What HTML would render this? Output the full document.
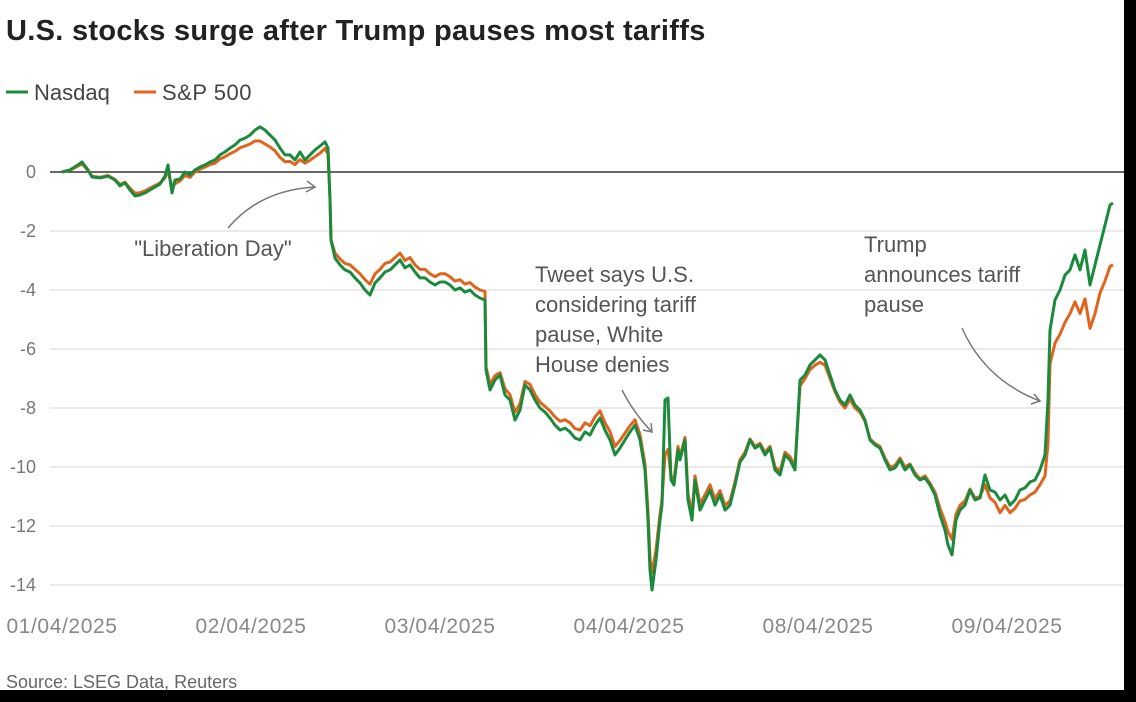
<!DOCTYPE html>
<html><head><meta charset="utf-8">
<style>
html,body{margin:0;padding:0;background:#000;}
#wrap{position:relative;width:1124px;height:690px;background:#fff;overflow:hidden;font-family:"Liberation Sans",sans-serif;}
svg text{font-family:"Liberation Sans",sans-serif;}
</style></head>
<body>
<div id="wrap">
<svg id="chart" width="1124" height="690">
  <text x="6" y="40" font-size="29" font-weight="bold" letter-spacing="0.3" fill="#222">U.S. stocks surge after Trump pauses most tariffs</text>
  <g>
    <g>
      <line x1="6" y1="92" x2="28" y2="92" stroke="#1a8a3c" stroke-width="3"/>
      <text x="34" y="100" font-size="22" fill="#444">Nasdaq</text>
    </g>
    <g>
      <line x1="134" y1="92" x2="156" y2="92" stroke="#e0641e" stroke-width="3"/>
      <text x="162" y="100" font-size="22" letter-spacing="0.5" fill="#444">S&amp;P 500</text>
    </g>
  </g>
  <g id="grid"></g>
  <g id="ylabels"></g>
  <g id="xlabels"></g>
  <g id="series"></g>
  <g fill="#555" font-size="22">
    <text x="213" y="256" text-anchor="middle">"Liberation Day"</text>
    <path d="M228,228 Q260,190 315,187" fill="none" stroke="#777" stroke-width="1.5"/>
    <path d="M307,181 L315,187 L306,192" fill="none" stroke="#777" stroke-width="1.5"/>
    <text x="535" y="282"><tspan x="535" y="282">Tweet says U.S.</tspan><tspan x="535" y="312">considering tariff</tspan><tspan x="535" y="342">pause, White</tspan><tspan x="535" y="372">House denies</tspan></text>
    <path d="M622,390 Q635,415 652,432" fill="none" stroke="#777" stroke-width="1.5"/>
    <path d="M643,430 L652,432 L651,423" fill="none" stroke="#777" stroke-width="1.5"/>
    <text x="864" y="252"><tspan x="864" y="252">Trump</tspan><tspan x="864" y="282">announces tariff</tspan><tspan x="864" y="312">pause</tspan></text>
    <path d="M962,328 Q985,380 1040,401" fill="none" stroke="#777" stroke-width="1.5"/>
    <path d="M1031,404 L1040,401 L1034,394" fill="none" stroke="#777" stroke-width="1.5"/>
  </g>
  <text x="6" y="688" font-size="18" fill="#666">Source: LSEG Data, Reuters</text>
</svg>
</div>
<script>
// time stamps: sample index, 189 samples per trading day
const tIdx = [0,8,16,20,26,30,38,46,53,58,63,68,73,78,83,88,93,98,103,106,110,113,118,123,128,133,138,143,148,153,158,163,168,173,178,183,188,193,198,203,208,213,218,223,228,233,238,243,248,253,258,263,266,268,269,273,278,283,288,293,298,303,308,313,318,323,328,333,338,343,348,353,358,363,368,373,378,383,388,393,398,403,408,413,418,423,424,428,433,438,443,448,453,458,463,468,473,478,483,488,493,498,503,508,513,518,523,528,533,538,543,548,553,558,563,568,573,578,583,586,588,590,594,598,600,603,606,609,612,616,618,623,626,630,633,638,643,648,653,658,663,668,673,678,683,688,693,698,703,708,713,718,723,728,733,738,743,748,753,758,763,768,773,778,783,788,793,798,803,808,813,818,823,828,833,838,843,848,853,858,863,868,873,878,883,886,890,894,898,903,908,913,918,923,928,933,938,943,948,953,958,963,968,973,978,983,986,988,993,998,1003,1008,1013,1018,1023,1028,1033,1038,1043,1048,1051];
const nasdaq = [0,0.07,0.24,0.34,0.07,-0.17,-0.2,-0.14,-0.27,-0.47,-0.37,-0.61,-0.81,-0.78,-0.71,-0.61,-0.51,-0.41,-0.14,0.24,-0.71,-0.27,-0.24,0,-0.1,0.07,0.17,0.24,0.34,0.41,0.58,0.68,0.81,0.92,1.08,1.15,1.25,1.42,1.53,1.42,1.25,1.08,0.81,0.58,0.58,0.41,0.68,0.41,0.58,0.75,0.88,1.02,0.81,-0.95,-2.31,-2.92,-3.15,-3.32,-3.39,-3.59,-3.76,-4.0,-4.17,-3.76,-3.59,-3.39,-3.32,-3.15,-2.98,-3.25,-3.15,-3.39,-3.59,-3.59,-3.73,-3.83,-3.73,-3.73,-3.83,-4.0,-3.93,-4.07,-4.0,-4.17,-4.27,-4.34,-6.71,-7.39,-7.05,-6.88,-7.56,-7.73,-8.41,-8.07,-7.22,-7.39,-7.73,-8.0,-8.14,-8.34,-8.58,-8.75,-8.68,-8.81,-9.02,-9.08,-8.81,-8.92,-8.58,-8.34,-8.75,-9.08,-9.59,-9.36,-9.08,-8.81,-8.58,-9.08,-10.1,-11.8,-13.49,-14.17,-13.15,-11.8,-11.29,-7.73,-7.66,-10.44,-10.61,-9.42,-9.76,-9.08,-11.12,-11.8,-10.44,-11.46,-11.12,-10.78,-11.29,-10.95,-11.46,-11.29,-10.61,-9.83,-9.59,-9.08,-9.36,-9.25,-9.59,-9.36,-10.1,-10.27,-9.59,-9.76,-10.1,-7.05,-6.88,-6.54,-6.37,-6.2,-6.37,-6.88,-7.39,-7.73,-7.9,-7.56,-7.9,-8.07,-8.41,-9.08,-9.25,-9.36,-9.76,-10.1,-10.03,-9.76,-10.1,-9.93,-10.27,-10.44,-10.37,-10.61,-10.95,-11.63,-12.14,-12.64,-12.98,-11.8,-11.46,-11.29,-10.78,-11.12,-11.05,-10.27,-10.78,-10.85,-11.12,-10.95,-11.29,-11.12,-10.78,-10.71,-10.51,-10.44,-10.1,-9.59,-7.73,-5.36,-4.34,-4.0,-3.49,-3.32,-2.81,-3.32,-2.64,-3.83,-3.15,-2.47,-1.8,-1.12,-1.05];
const sp500 = [0,0.06,0.2,0.28,0.05,-0.15,-0.18,-0.12,-0.25,-0.42,-0.35,-0.55,-0.72,-0.7,-0.64,-0.55,-0.46,-0.37,-0.2,0.05,-0.55,-0.4,-0.3,-0.12,-0.18,0,0.1,0.17,0.25,0.3,0.44,0.52,0.62,0.7,0.82,0.88,0.95,1.05,1.05,0.95,0.85,0.72,0.5,0.35,0.36,0.25,0.42,0.3,0.4,0.52,0.64,0.8,0.6,-0.9,-2.3,-2.75,-2.95,-3.1,-3.15,-3.3,-3.45,-3.65,-3.8,-3.45,-3.3,-3.1,-3.05,-2.9,-2.75,-3.0,-2.9,-3.15,-3.3,-3.3,-3.45,-3.55,-3.45,-3.45,-3.55,-3.7,-3.65,-3.8,-3.75,-3.9,-4.0,-4.05,-6.6,-7.2,-6.9,-6.8,-7.35,-7.55,-8.15,-7.85,-7.1,-7.2,-7.55,-7.8,-7.95,-8.1,-8.3,-8.45,-8.4,-8.5,-8.7,-8.75,-8.5,-8.6,-8.3,-8.1,-8.5,-8.8,-9.3,-9.1,-8.85,-8.6,-8.4,-8.9,-9.9,-11.5,-13.1,-13.6,-12.8,-11.6,-11.1,-9.6,-9.4,-10.3,-10.45,-9.3,-9.65,-9.0,-10.9,-11.6,-10.3,-11.25,-10.95,-10.6,-11.1,-10.8,-11.3,-11.15,-10.5,-9.75,-9.5,-9.05,-9.3,-9.2,-9.5,-9.3,-10.0,-10.15,-9.5,-9.65,-9.95,-7.25,-7.0,-6.7,-6.55,-6.45,-6.55,-7.0,-7.45,-7.8,-8.0,-7.7,-8.0,-8.15,-8.45,-9.05,-9.2,-9.3,-9.7,-10.0,-9.95,-9.7,-10.0,-9.9,-10.2,-10.4,-10.3,-10.55,-10.85,-11.4,-11.85,-12.2,-12.45,-11.6,-11.3,-11.15,-10.75,-11.05,-11.0,-10.6,-11.05,-11.2,-11.55,-11.3,-11.55,-11.4,-11.15,-11.1,-10.95,-10.85,-10.6,-10.3,-9.2,-6.5,-5.8,-5.5,-5.1,-4.8,-4.4,-4.8,-4.3,-5.3,-4.8,-4.1,-3.7,-3.2,-3.15];
const yTicks = [0,-2,-4,-6,-8,-10,-12,-14];
const xLabels = ["01/04/2025","02/04/2025","03/04/2025","04/04/2025","08/04/2025","09/04/2025"];
const perDay = 189;

const NS = "http://www.w3.org/2000/svg";
const x0 = 62, dayW = 189, yZero = 172, unit = 29.5;
function xScale(t){ return x0 + (t/perDay)*dayW; }
function yScale(v){ return yZero - v*unit; }
function mk(tag, attrs){ const e=document.createElementNS(NS,tag); for(const k in attrs) e.setAttribute(k,attrs[k]); return e; }

const grid=document.getElementById('grid'), yl=document.getElementById('ylabels'), xl=document.getElementById('xlabels'), ser=document.getElementById('series');
yTicks.forEach(v=>{
  const ln = mk('line',{x1:50,x2:1124,y1:yScale(v),y2:yScale(v),stroke:v===0?'#333':'#d4d4d4','stroke-width':v===0?1.5:1});
  
  
  grid.appendChild(ln);
  const tx = mk('text',{x:36,y:yScale(v)+6,'text-anchor':'end','font-size':18,fill:'#777'});
  tx.textContent = String(v);
  
  
  yl.appendChild(tx);
});
xLabels.forEach((s,i)=>{
  const tx = mk('text',{x:xScale(i*perDay),y:633,'text-anchor':'middle','font-size':21,'letter-spacing':0.6,fill:'#888'});
  tx.textContent = s;
  
  
  xl.appendChild(tx);
});
function drawLine(vals,color,name){
  const d = vals.map((v,i)=>(i?'L':'M')+xScale(tIdx[i]).toFixed(1)+','+yScale(v).toFixed(1)).join(' ');
  const p = mk('path',{d:d,fill:'none',stroke:color,'stroke-width':3,'stroke-linejoin':'round'});
  
  
  ser.appendChild(p);
}
drawLine(sp500,'#e0641e','sp500-line');
drawLine(nasdaq,'#1a8a3c','nasdaq-line');
</script>
</body></html>
